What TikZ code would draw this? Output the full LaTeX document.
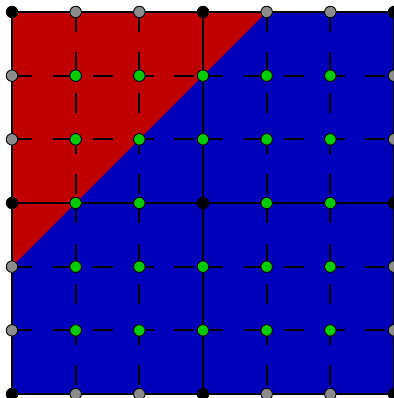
\documentclass[tikz,border=0pt]{standalone}
\definecolor{myred}{RGB}{192,0,0}
\definecolor{myblue}{RGB}{0,0,187}
\definecolor{mygreen}{RGB}{0,204,0}
\definecolor{mygray}{RGB}{140,140,140}
\begin{document}
\begin{tikzpicture}[x=1pt,y=-1pt,
  gridsolid/.style={line width=2pt,black},
  griddash/.style={line width=2pt,black,dash pattern=on 20.25pt off 20.25pt},
  dotbase/.style={circle,inner sep=0pt,minimum size=11.5pt,draw=black,line width=0.9pt},
  cornerdot/.style={dotbase,fill=black},
  edgedot/.style={dotbase,fill=mygray},
  innerdot/.style={dotbase,fill=mygreen}]
\useasboundingbox (0,0) rectangle (393,398);
\def\L{63.667}
\fill[myblue] (12,12) rectangle (394,394);
\fill[myred] (12,12) -- (266.67,12) -- (12,266.67) -- cycle;
\foreach \i in {1,2,4,5}{
  \draw[griddash] (12+\i*\L,12) -- (12+\i*\L,203);
  \draw[griddash] (12+\i*\L,203) -- (12+\i*\L,394);
  \draw[griddash] (12,12+\i*\L) -- (203,12+\i*\L);
  \draw[griddash] (203,12+\i*\L) -- (394,12+\i*\L);
}
\foreach \i in {0,3,6}{
  \draw[gridsolid] (12+\i*\L,12) -- (12+\i*\L,394);
  \draw[gridsolid] (12,12+\i*\L) -- (394,12+\i*\L);
}
\foreach \i in {0,...,6}{
  \foreach \j in {0,...,6}{
    \pgfmathtruncatemacro{\ci}{(\i==0)||(\i==3)||(\i==6)}
    \pgfmathtruncatemacro{\cj}{(\j==0)||(\j==3)||(\j==6)}
    \pgfmathtruncatemacro{\bi}{(\i==0)||(\i==6)}
    \pgfmathtruncatemacro{\bj}{(\j==0)||(\j==6)}
    \ifnum\ci\cj=11
      \node[cornerdot] (p-\i-\j) at (12+\i*\L,12+\j*\L) {};
    \else
      \ifnum\bi\bj=0
        \node[innerdot] (p-\i-\j) at (12+\i*\L,12+\j*\L) {};
      \else
        \node[edgedot] (p-\i-\j) at (12+\i*\L,12+\j*\L) {};
      \fi
    \fi
  }
}
\end{tikzpicture}
\end{document}
